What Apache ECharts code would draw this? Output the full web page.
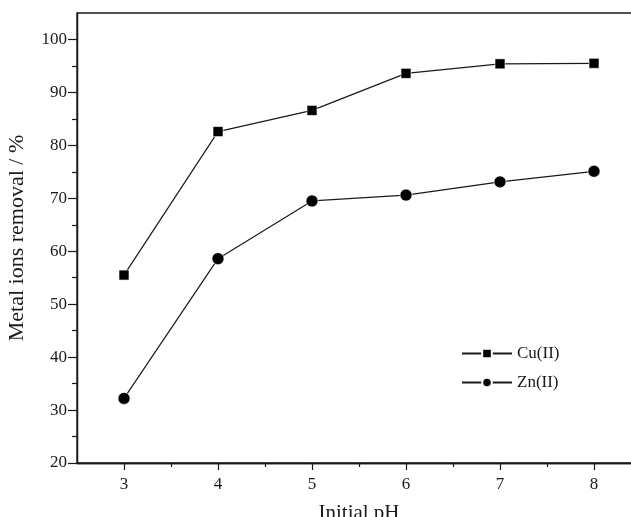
<!DOCTYPE html>
<html>
<head>
<meta charset="utf-8">
<script src="https://cdn.jsdelivr.net/npm/echarts@6/dist/echarts.min.js"></script>
<style>
  html, body { margin: 0; padding: 0; background: #fff; }
  #chart { width: 631px; height: 517px; }
</style>
</head>
<body>
<div id="chart"></div>
<script>
// data
const phValues = [3, 4, 5, 6, 7, 8];
const cuRemoval = [55.5, 82.6, 86.6, 93.6, 95.4, 95.5];
const znRemoval = [32.2, 58.6, 69.5, 70.6, 73.1, 75.1];

// tick positions
const xMajorTicks = [3, 4, 5, 6, 7, 8];
const xMinorTicks = [3.5, 4.5, 5.5, 6.5, 7.5];
const yMajorTicks = [20, 30, 40, 50, 60, 70, 80, 90, 100];
const yMinorTicks = [25, 35, 45, 55, 65, 75, 85, 95];

const serif = '"Liberation Serif", "DejaVu Serif", serif';
const ink = '#1a1a1a';

let myChart = echarts.init(document.getElementById('chart'));

function pairs(ys) {
  return phValues.map((x, i) => [x, ys[i]]);
}

let baseX = {
  type: 'value',
  min: 2.5,
  max: 8.5,
  position: 'bottom',
  splitLine: { show: false },
  axisLine: { show: true, lineStyle: { color: ink, width: 1.3 } }
};
let baseY = {
  type: 'value',
  min: 20,
  max: 105,
  position: 'left',
  splitLine: { show: false },
  axisLine: { show: true, lineStyle: { color: ink, width: 1.3 } }
};

let option = {
  animation: false,
  backgroundColor: '#fff',
  grid: {
    left: 77,
    top: 13,
    width: 564,
    height: 450,
    outerBoundsMode: 'none',
    containLabel: false,
    show: true,
    borderColor: ink,
    borderWidth: 1.3
  },
  legend: {
    orient: 'vertical',
    left: 456,
    top: 340,
    itemWidth: 50,
    itemHeight: 12,
    itemGap: 12,
    textStyle: { fontFamily: serif, fontSize: 17, color: ink },
    data: ['Cu(II)', 'Zn(II)']
  },
  xAxis: [
    Object.assign({}, baseX, {
      name: 'Initial pH',
      nameLocation: 'middle',
      nameGap: 40,
      nameTextStyle: { fontFamily: serif, fontSize: 21, color: ink },
      axisTick: { show: true, length: 7, customValues: xMajorTicks, lineStyle: { color: ink, width: 1.2 } },
      axisLabel: { customValues: xMajorTicks, margin: 13, fontFamily: serif, fontSize: 17, color: ink }
    }),
    Object.assign({}, baseX, {
      axisTick: { show: true, length: 4, customValues: xMinorTicks, lineStyle: { color: ink, width: 1.2 } },
      axisLabel: { show: false }
    })
  ],
  yAxis: [
    Object.assign({}, baseY, {
      name: 'Metal ions removal / %',
      nameLocation: 'middle',
      nameGap: 49,
      nameRotate: 90,
      nameTextStyle: { fontFamily: serif, fontSize: 22, color: ink },
      axisTick: { show: true, length: 9, customValues: yMajorTicks, lineStyle: { color: ink, width: 1.2 } },
      axisLabel: { customValues: yMajorTicks, margin: 10, fontFamily: serif, fontSize: 17, color: ink }
    }),
    Object.assign({}, baseY, {
      axisTick: { show: true, length: 5, customValues: yMinorTicks, lineStyle: { color: ink, width: 1.2 } },
      axisLabel: { show: false }
    })
  ],
  series: [
    {
      name: 'Cu(II)',
      type: 'line',
      data: pairs(cuRemoval),
      symbol: 'rect',
      symbolSize: 10,
      lineStyle: { color: ink, width: 1.2 },
      itemStyle: { color: '#000', borderColor: '#fff', borderWidth: 0.6 }
    },
    {
      name: 'Zn(II)',
      type: 'line',
      data: pairs(znRemoval),
      symbol: 'circle',
      symbolSize: 12,
      lineStyle: { color: ink, width: 1.2 },
      itemStyle: { color: '#000', borderColor: '#fff', borderWidth: 0.6 }
    }
  ]
};

myChart.setOption(option);
</script>
</body>
</html>
